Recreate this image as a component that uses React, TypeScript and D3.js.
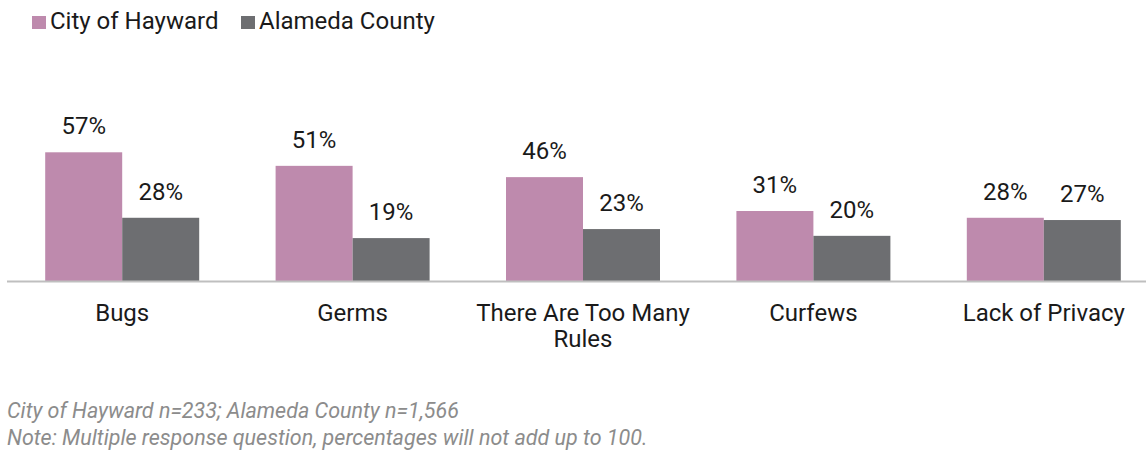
import React from "react";
import * as d3 from "d3";

const categories: string[][] = [["Bugs"], ["Germs"], ["There Are Too Many", "Rules"], ["Curfews"], ["Lack of Privacy"]];
const seriesNames = ["City of Hayward", "Alameda County"];
const hayward = [57, 51, 46, 31, 28];
const alameda = [28, 19, 23, 20, 27];
const colors = ["#BE8AAD", "#6D6E71"];
const footnotes = [
  "City of Hayward n=233; Alameda County n=1,566",
  "Note: Multiple response question, percentages will not add up to 100.",
];

const W = 1146;
const H = 452;
const FONT = "Roboto, 'Noto Sans', sans-serif";

export default function App() {
  const baseY = 281;
  const x = d3.scaleBand<number>().domain(d3.range(categories.length)).range([7, 1159]).paddingInner(0).paddingOuter(0);
  const y = d3.scaleLinear().domain([0, 100]).range([baseY, baseY - 225.8]);
  const barW = 77;
  const series = [hayward, alameda];

  return (
    <svg width={W} height={H} style={{ position: "absolute", left: 0, top: 0, background: "#fff" }} fontFamily={FONT}>
      {seriesNames.map((n, i) => {
        const lx = i === 0 ? 32 : 241;
        return (
          <g key={n}>
            <rect x={lx} y={16} width={14} height={13} fill={colors[i]} />
            <text x={lx + 18} y={29} fontSize={24} fill="#1a1a1a">{n}</text>
          </g>
        );
      })}
      {categories.map((c, ci) => {
        const cx = (x(ci) as number) + x.bandwidth() / 2;
        return (
          <g key={ci}>
            {series.map((s, si) => {
              const bx = si === 0 ? cx - barW : cx;
              const v = s[ci];
              return (
                <g key={si}>
                  <rect x={bx} y={y(v)} width={barW} height={baseY - y(v)} fill={colors[si]} />
                  <text x={bx + barW / 2} y={y(v) - 18} textAnchor="middle" fontSize={24} fill="#1a1a1a">{v}%</text>
                </g>
              );
            })}
            {c.map((line, li) => (
              <text key={li} x={cx} y={321 + li * 26} textAnchor="middle" fontSize={24} fill="#1a1a1a">{line}</text>
            ))}
          </g>
        );
      })}
      <line x1={7} x2={W} y1={baseY + 0.5} y2={baseY + 0.5} stroke="#BFBFBF" strokeWidth={2} />
      {footnotes.map((f, i) => (
        <text key={i} x={7} y={418 + i * 27} fontSize={21.5} fontStyle="italic" fill="#8C8C8C">{f}</text>
      ))}
    </svg>
  );
}
